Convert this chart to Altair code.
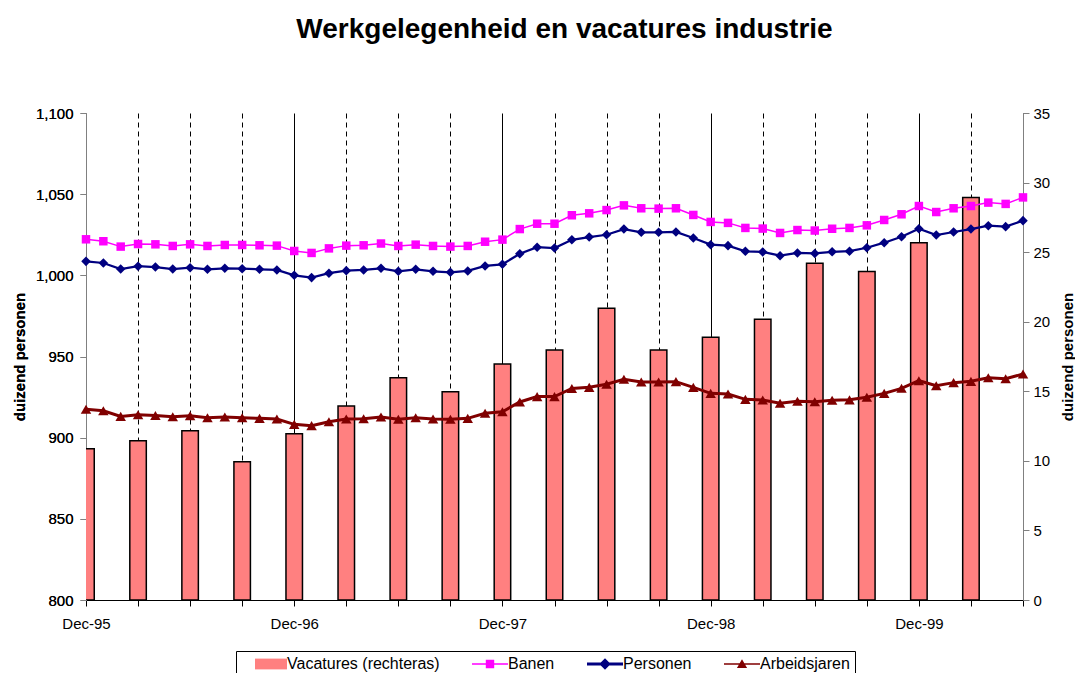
import json
import altair as alt
import pandas as pd

# ---------------- data ----------------
title_text = "Werkgelegenheid en vacatures industrie"
axis_title = "duizend personen"
year_labels = ["Dec-95", "Dec-96", "Dec-97", "Dec-98", "Dec-99"]
n_months = 55  # Dec-95 .. Jun-00, monthly

banen = [1022.2, 1021.0, 1017.7, 1019.3, 1019.1, 1018.1, 1019.1, 1018.1, 1018.7, 1018.7, 1018.5, 1018.3,
         1015.0, 1013.8, 1016.6, 1018.3, 1018.5, 1019.6, 1018.1, 1018.9, 1018.1, 1017.7, 1018.1, 1020.7,
         1022.0, 1028.5, 1031.8, 1031.8, 1037.0, 1038.2, 1040.2, 1043.1, 1041.3, 1041.1, 1041.3, 1037.2,
         1032.9, 1032.3, 1029.2, 1028.8, 1026.1, 1027.9, 1027.6, 1028.7, 1029.2, 1030.8, 1034.1, 1037.6,
         1042.7, 1039.0, 1041.3, 1042.7, 1044.8, 1044.0, 1048.0]
personen = [1008.6, 1007.6, 1003.9, 1005.6, 1005.1, 1003.9, 1004.7, 1003.7, 1004.3, 1004.1, 1003.7, 1003.3,
            1000.0, 998.6, 1001.3, 1002.9, 1003.3, 1004.3, 1002.5, 1003.7, 1002.5, 1001.9, 1002.7, 1005.8,
            1006.8, 1013.3, 1017.3, 1016.8, 1021.9, 1023.6, 1025.0, 1028.5, 1026.5, 1026.5, 1026.7, 1023.0,
            1018.9, 1018.3, 1014.8, 1014.4, 1012.1, 1013.8, 1013.5, 1014.5, 1014.9, 1017.0, 1020.1, 1023.8,
            1028.7, 1024.8, 1026.7, 1028.5, 1030.6, 1030.0, 1033.7]
arbeidsjaren = [917.5, 916.6, 913.1, 914.1, 913.7, 912.9, 913.5, 912.3, 912.7, 912.3, 911.9, 911.5,
                908.2, 907.4, 909.8, 911.5, 911.7, 912.7, 911.3, 912.3, 911.5, 911.3, 911.9, 915.0,
                916.0, 922.0, 925.3, 925.3, 930.3, 931.0, 932.9, 936.0, 934.3, 934.3, 934.5, 931.0,
                927.3, 926.9, 923.6, 923.2, 921.2, 922.4, 922.1, 923.0, 923.3, 924.9, 927.3, 930.4,
                935.1, 932.0, 933.9, 934.7, 936.9, 936.3, 939.2]

vac_months = [0, 3, 6, 9, 12, 15, 18, 21, 24, 27, 30, 33, 36, 39, 42, 45, 48, 51]
vacatures = [10.87, 11.45, 12.17, 9.94, 11.95, 13.94, 15.98, 14.97, 16.96, 17.97,
             20.96, 17.97, 18.88, 20.17, 24.2, 23.6, 25.68, 28.92]

bar_name = "Vacatures (rechteras)"
series_names = ["Banen", "Personen", "Arbeidsjaren"]
series_colors = ["#FF00FF", "#000080", "#800000"]
series_shapes = ["square", "diamond", "triangle-up"]
series_sizes = [72, 110, 90]
series_widths = [1.5, 3, 1.5]
bar_fill = "#FF8080"

legend_names = [bar_name] + series_names
legend_fills = [bar_fill] + series_colors
# legend symbols (unit = 6 px): a filled line segment with the series marker on it
legend_paths = [
    "M-2.33,-0.9H3V0.9H-2.33Z",
    "M-3,-0.125H3V0.125H-3ZM-0.7,-0.7H0.7V0.7H-0.7Z",
    "M-3,-0.25H3V0.25H-3ZM0,-0.95L0.95,0L0,0.95L-0.95,0Z",
    "M-3,-0.125H3V0.125H-3ZM0,-0.8L0.85,0.65L-0.85,0.65Z",
]

FONT = "Liberation Sans, Arial, sans-serif"

# ---------------- tables ----------------
months = list(range(n_months))
lines_df = pd.DataFrame({
    "maand": months * 3,
    "waarde": banen + personen + arbeidsjaren,
    "reeks": [s for s in series_names for _ in months],
})
bars_df = pd.DataFrame({"maand": vac_months, "waarde": vacatures})
legend_df = pd.DataFrame({"reeks": legend_names})

label_expr = ("datum.value % 12 === 0 ? " + json.dumps(year_labels) +
              "[datum.value / 12] : ''")

x_enc = alt.X(
    "maand:Q",
    scale=alt.Scale(domain=[0, n_months - 1], nice=False, zero=False, padding=0),
    axis=alt.Axis(
        values=list(range(0, n_months, 3)), labelExpr=label_expr, title=None,
        tickSize=6, tickColor="black", domainColor="black",
        labelFontSize=15, labelPadding=10, labelColor="black",
        labelOverlap=False, labelFlush=False, labelBound=False,
        grid=True, gridColor="black", gridWidth=1,
        gridDash={"condition": {"test": "datum.value % 12 === 0", "value": []}, "value": [5, 4]},
        gridOpacity={"condition": {"test": "datum.value === 0", "value": 0}, "value": 1},
    ),
)

left_y = alt.Y(
    "waarde:Q",
    scale=alt.Scale(domain=[800, 1100], nice=False, zero=False),
    axis=alt.Axis(
        orient="left", values=list(range(800, 1101, 50)), format=",.0f",
        tickSize=6, tickColor="#808080", domainColor="#808080",
        labelFontSize=15, labelPadding=7, labelColor="black", grid=False,
        title=axis_title, titleFontSize=15, titleFontWeight="bold", titleColor="black",
        titleAngle=270, titleX=-67, titleY=243.5, titleAlign="center", titleBaseline="middle",
    ),
)

right_y = alt.Y(
    "waarde:Q",
    scale=alt.Scale(domain=[0, 35], nice=False, padding=0),
    axis=alt.Axis(
        orient="right", values=list(range(0, 36, 5)), format=".0f",
        tickSize=6, tickColor="#808080", domainColor="#808080",
        labelFontSize=15, labelPadding=4, labelColor="black", grid=False,
        title=axis_title, titleFontSize=15, titleFontWeight="bold", titleColor="black",
        titleAngle=270, titleX=44, titleY=243.5, titleAlign="center", titleBaseline="middle",
    ),
)

bars = alt.Chart(bars_df).mark_bar(
    size=16.5, clip=True, fill=bar_fill, stroke="black", strokeWidth=1.5, orient="vertical"
).encode(x=x_enc, y=right_y)

line_color = alt.Color("reeks:N", scale=alt.Scale(domain=series_names, range=series_colors), legend=None)

lines = alt.Chart(lines_df).mark_line().encode(
    x=x_enc, y=left_y, color=line_color,
    strokeWidth=alt.StrokeWidth("reeks:N", scale=alt.Scale(domain=series_names, range=series_widths), legend=None),
)

points = alt.Chart(lines_df).mark_point(filled=True, opacity=1).encode(
    x=x_enc, y=left_y, color=line_color,
    shape=alt.Shape("reeks:N", scale=alt.Scale(domain=series_names, range=series_shapes), legend=None),
    size=alt.Size("reeks:N", scale=alt.Scale(domain=series_names, range=series_sizes), legend=None),
)

legend_def = alt.Legend(
    title=None, orient="none", legendX=150, legendY=538, direction="horizontal", columns=4,
    symbolSize=144, symbolStrokeWidth=0, symbolOffset=20, labelOffset=10, symbolOpacity=1,
    labelFontSize=16, labelFont=FONT, labelColor="black", labelLimit=0,
    strokeColor="black", fillColor="white", padding=5, columnPadding=22,
)

legend_layer = alt.Chart(legend_df).transform_filter("false").mark_point(
    filled=True, opacity=1
).encode(
    color=alt.Color("reeks:N", scale=alt.Scale(domain=legend_names, range=legend_fills), legend=legend_def),
    shape=alt.Shape("reeks:N", scale=alt.Scale(domain=legend_names, range=legend_paths), legend=legend_def),
)

chart = alt.layer(bars, lines, points, legend_layer).resolve_scale(
    y="independent", shape="independent", color="independent"
).properties(
    width=937, height=487,
    autosize=alt.AutoSizeParams(type="none"),
    padding={"left": 78, "top": 105, "right": 52, "bottom": 73},
    title=alt.TitleParams(
        text=title_text, fontSize=28, fontWeight="bold", font=FONT, color="black",
        anchor="middle", frame="group", dx=10, baseline="alphabetic", offset=40,
    ),
    background="white",
).configure_view(stroke=None).configure_axis(labelFont=FONT, titleFont=FONT)

chart.save("out.html", embed_options={"renderer": "svg", "actions": False})
